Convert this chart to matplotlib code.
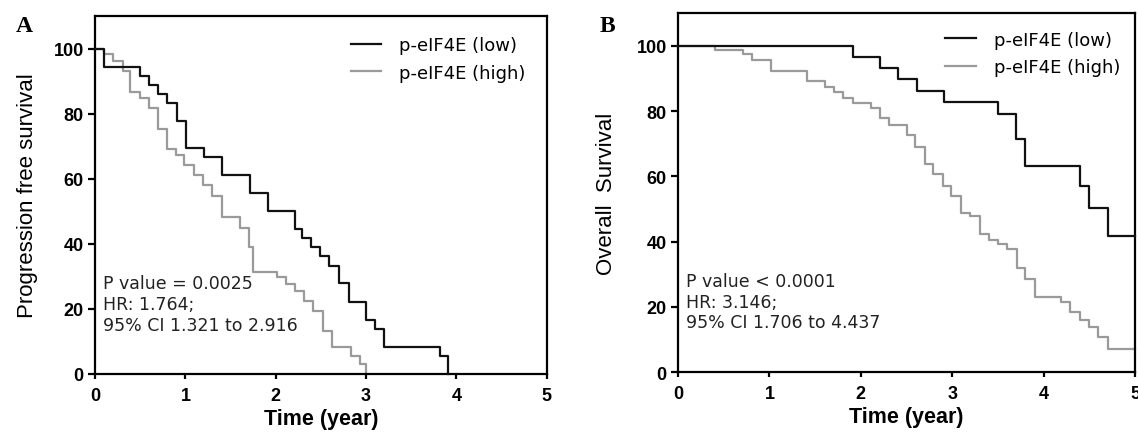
import matplotlib.pyplot as plt

# ----------------------------------------
# Data (Kaplan-Meier steps)
# ----------------------------------------

# Panel A: progression free survival
a_low_t = [0, 0.10, 0.50, 0.60, 0.70, 0.80, 0.91, 1.01, 1.21, 1.41, 1.71,
           1.91, 2.21, 2.29, 2.39, 2.49, 2.59, 2.70, 2.81, 3.00, 3.10, 3.20,
           3.82, 3.91]
a_low_s = [100, 94.4, 91.7, 88.9, 86.1, 83.3, 77.8, 69.4, 66.7, 61.1, 55.6,
           50.0, 44.4, 41.7, 38.9, 36.1, 33.3, 27.8, 22.2, 16.7, 13.9, 8.3,
           5.6, 0]

a_high_t = [0, 0.10, 0.20, 0.31, 0.39, 0.50, 0.60, 0.70, 0.80, 0.90, 0.99,
            1.10, 1.20, 1.30, 1.40, 1.60, 1.70, 1.75, 2.01, 2.11, 2.21, 2.31,
            2.41, 2.52, 2.62, 2.83, 2.93, 3.00]
a_high_s = [100, 98.2, 96.1, 93.0, 86.6, 84.9, 81.8, 75.4, 69.2, 67.2, 64.2,
            61.1, 58.0, 54.8, 48.1, 45.0, 38.9, 31.2, 29.7, 27.6, 25.6, 22.5,
            19.4, 13.3, 8.2, 5.6, 3.1, 0]

# Panel B: overall survival
b_low_t = [0, 1.91, 2.21, 2.41, 2.61, 2.91, 3.50, 3.70, 3.80, 4.40, 4.50,
           4.70, 5.00]
b_low_s = [100, 96.6, 93.1, 89.7, 86.2, 82.8, 79.0, 71.4, 63.0, 57.1, 50.2,
           41.6, 41.6]

b_high_t = [0, 0.40, 0.71, 0.81, 1.02, 1.41, 1.61, 1.71, 1.80, 1.91, 2.11,
            2.21, 2.31, 2.50, 2.59, 2.70, 2.79, 2.90, 2.99, 3.10, 3.19, 3.30,
            3.40, 3.50, 3.60, 3.71, 3.80, 3.91, 4.19, 4.29, 4.40, 4.50, 4.60,
            4.70, 5.00]
b_high_s = [100, 98.6, 97.4, 95.5, 92.2, 89.1, 87.3, 85.8, 84.0, 82.5, 80.9,
            77.8, 75.8, 72.7, 69.1, 63.7, 60.6, 57.0, 53.9, 48.8, 47.8, 42.2,
            40.6, 39.1, 37.6, 32.0, 28.6, 23.1, 21.6, 18.5, 15.9, 13.9, 10.7,
            7.0, 7.0]

legend_labels = ["p-eIF4E (low)", "p-eIF4E (high)"]
x_ticks = [0, 1, 2, 3, 4, 5]
y_ticks = [0, 20, 40, 60, 80, 100]

stats_a = "P value = 0.0025\nHR: 1.764;\n95% CI 1.321 to 2.916"
stats_b = "P value < 0.0001\nHR: 3.146;\n95% CI 1.706 to 4.437"

LOW_COLOR = "#111111"
HIGH_COLOR = "#9a9a9a"


def style_axes(ax, ylabel, ypad):
    ax.set_xlim(0, 5)
    ax.set_ylim(0, 110)
    ax.set_xticks(x_ticks)
    ax.set_yticks(y_ticks)
    for sp in ax.spines.values():
        sp.set_linewidth(1.6)
        sp.set_color("black")
    ax.tick_params(axis="x", direction="out", length=3.5, width=1.6, pad=6)
    ax.tick_params(axis="y", direction="out", length=5, width=1.6, pad=3.2)
    for lab in ax.get_xticklabels() + ax.get_yticklabels():
        lab.set_family("Liberation Sans")
        lab.set_fontweight("bold")
        lab.set_fontsize(13)
    ax.set_xlabel("Time (year)", family="Liberation Sans",
                  fontweight="bold", fontsize=15.5, labelpad=3)
    ax.set_ylabel(ylabel, family="Liberation Sans", fontsize=16,
                  labelpad=ypad)


def draw_panel(ax, low_t, low_s, high_t, high_s, ylabel, stats, leg_x,
               leg_y, ypad):
    ax.step(low_t, low_s, where="post", color=LOW_COLOR, lw=1.6,
            label=legend_labels[0], clip_on=False, zorder=3)
    ax.step(high_t, high_s, where="post", color=HIGH_COLOR, lw=1.6,
            label=legend_labels[1], clip_on=False, zorder=2)
    style_axes(ax, ylabel, ypad)
    ax.legend(loc="upper left", bbox_to_anchor=(leg_x, leg_y), frameon=False,
              prop={"family": "DejaVu Sans", "size": 13},
              handlelength=1.7, handletextpad=1.0, labelspacing=0.52,
              borderpad=0, borderaxespad=0)
    ax.text(0.018, 0.196, stats, transform=ax.transAxes, va="center",
            ha="left", family="DejaVu Sans", fontsize=12.5, linespacing=1.2,
            color="#222222")


fig = plt.figure(figsize=(11.38, 4.35), dpi=100)
ax_a = fig.add_axes([0.0835, 0.138, 0.397, 0.823])
ax_b = fig.add_axes([0.5958, 0.1425, 0.4016, 0.825])

draw_panel(ax_a, a_low_t, a_low_s, a_high_t, a_high_s,
           "Progression free survival", stats_a, 0.566, 0.943, 11)
draw_panel(ax_b, b_low_t, b_low_s, b_high_t, b_high_s,
           "Overall  Survival", stats_b, 0.585, 0.951, 14)

fig.text(0.021, 0.938, "A", family="Liberation Serif", fontweight="bold",
         fontsize=17, ha="center", va="center")
fig.text(0.534, 0.940, "B", family="Liberation Serif", fontweight="bold",
         fontsize=17, ha="center", va="center")

fig.savefig("out.png", dpi=100)
